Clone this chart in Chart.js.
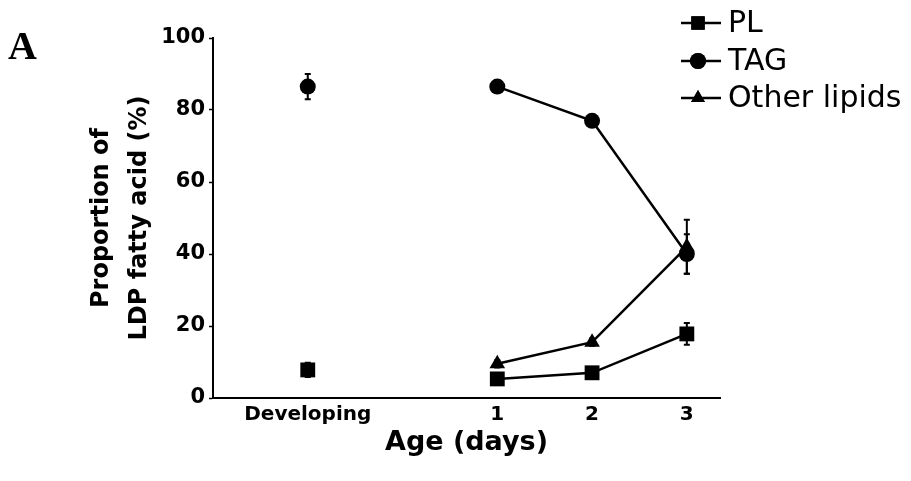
<!DOCTYPE html>
<html>
<head>
<meta charset="utf-8">
<script src="https://cdn.jsdelivr.net/npm/chart.js@4/dist/chart.umd.min.js"></script>
<style>
  html, body { margin: 0; padding: 0; background: #fff; }
  #wrap { position: relative; width: 911px; height: 481px; }
  #panel { position: absolute; left: 8px; top: 22px; font: bold 40px "Liberation Serif", serif; color: #000; }
</style>
</head>
<body>
<div id="wrap">
  <canvas id="lipidChart" width="911" height="481"></canvas>
  <div id="panel">A</div>
</div>
<script>
// x categories and where they sit on the age axis
const ageLabels = ['Developing', '1', '2', '3'];
const agePos = [-1, 1, 2, 3];

// proportion of LDP fatty acid (%), mean and error
const plValues = [7.8, 5.3, 7, 17.8];
const plErrors = [2, 1.5, 1, 3];
const tagValues = [86.5, 86.5, 77, 40];
const tagErrors = [3.5, 1, 1, 5.5];
const otherValues = [null, 9.5, 15.5, 42];
const otherErrors = [0, 1, 1, 7.5];

const yTicks = [0, 20, 40, 60, 80, 100];

const FONT = '"DejaVu Sans", sans-serif';

function points(values) {
    return values.map((v, i) => ({ x: agePos[i], y: v }));
}

// no line between the developing point and day 1
const noJoin = ctx => ctx.p0.parsed.x < 0 ? 'transparent' : '#000';

function series(label, values, errors, style, radius) {
    return {
        label: label,
        data: points(values),
        errors: errors,
        borderColor: '#000',
        backgroundColor: '#000',
        borderWidth: 2.5,
        pointStyle: style,
        pointRadius: radius,
        pointBorderWidth: 0,
        spanGaps: false,
        segment: { borderColor: noJoin }
    };
}

// vertical error bars with small caps
const errorBars = {
    id: 'errorBars',
    beforeDatasetsDraw(chart) {
        const { ctx, scales: { x, y } } = chart;
        ctx.save();
        ctx.strokeStyle = '#000';
        ctx.lineWidth = 2;
        chart.data.datasets.forEach(ds => {
            ds.data.forEach((p, i) => {
                const e = ds.errors[i];
                if (p.y == null || !e) return;
                const px = x.getPixelForValue(p.x);
                const top = y.getPixelForValue(p.y + e);
                const bot = y.getPixelForValue(p.y - e);
                ctx.beginPath();
                ctx.moveTo(px, top); ctx.lineTo(px, bot);
                ctx.moveTo(px - 3, top); ctx.lineTo(px + 3, top);
                ctx.moveTo(px - 3, bot); ctx.lineTo(px + 3, bot);
                ctx.stroke();
            });
        });
        ctx.restore();
    }
};

// legend: short line with the marker on it, then the label
const lineLegend = {
    id: 'lineLegend',
    afterDraw(chart) {
        const ctx = chart.ctx;
        const rows = [23, 61, 98];
        ctx.save();
        ctx.font = '30px ' + FONT;
        ctx.textBaseline = 'middle';
        ctx.fillStyle = '#000';
        chart.data.datasets.forEach((ds, i) => {
            const yy = rows[i];
            ctx.strokeStyle = '#000';
            ctx.lineWidth = 2.5;
            ctx.beginPath();
            ctx.moveTo(681, yy); ctx.lineTo(721, yy);
            ctx.stroke();
            Chart.helpers.drawPoint(ctx, {
                pointStyle: ds.pointStyle,
                radius: ds.pointStyle === 'rect' ? 9.5 : 8,
                borderWidth: 0
            }, 698, yy);
            ctx.fill();
            ctx.fillText(ds.label, 728, yy + 1);
        });
        ctx.restore();
    }
};

new Chart(document.getElementById('lipidChart'), {
    type: 'line',
    data: {
        datasets: [
            series('PL', plValues, plErrors, 'rect', 10.5),
            series('TAG', tagValues, tagErrors, 'circle', 8),
            series('Other lipids', otherValues, otherErrors, 'triangle', 9)
        ]
    },
    options: {
        responsive: false,
        animation: false,
        layout: { padding: { top: 38, right: 191, left: 0, bottom: 0 } },
        plugins: {
            legend: { display: false },
            tooltip: { enabled: false }
        },
        scales: {
            x: {
                type: 'linear',
                min: -2,
                max: 3.35,
                afterBuildTicks: scale => { scale.ticks = agePos.map(v => ({ value: v })); },
                afterFit: scale => { scale.height = 83; },
                grid: { display: false, drawTicks: false },
                border: { display: true, color: '#000', width: 2 },
                ticks: {
                    padding: 5,
                    color: '#000',
                    font: { family: FONT, size: 20, weight: 'bold' },
                    callback: v => ageLabels[agePos.indexOf(v)]
                },
                title: {
                    display: true,
                    text: 'Age (days)',
                    color: '#000',
                    font: { family: FONT, size: 27, weight: 'bold' },
                    padding: { top: 0, bottom: 22 }
                }
            },
            y: {
                min: 0,
                max: 100,
                afterBuildTicks: scale => { scale.ticks = yTicks.map(v => ({ value: v })); },
                afterFit: scale => { scale.width = 213; },
                grid: { drawOnChartArea: false, drawTicks: true, tickLength: 4, tickColor: '#000', tickWidth: 1.5 },
                border: { display: true, color: '#000', width: 2 },
                ticks: {
                    padding: 4,
                    color: '#000',
                    font: { family: FONT, size: 21, weight: 'bold' }
                },
                title: {
                    display: true,
                    text: ['Proportion of', 'LDP fatty acid (%)'],
                    color: '#000',
                    font: { family: FONT, size: 24, weight: 'bold', lineHeight: 1.58 },
                    padding: { top: 83, bottom: 0 }
                }
            }
        }
    },
    plugins: [errorBars, lineLegend]
});
</script>
</body>
</html>
